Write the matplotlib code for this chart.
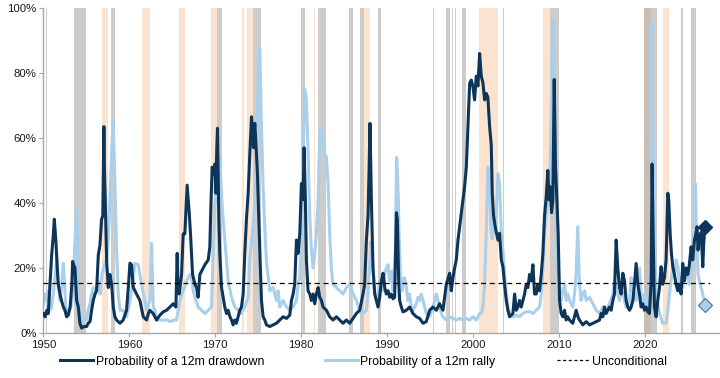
import matplotlib
matplotlib.use("Agg")
import matplotlib.pyplot as plt
from matplotlib.lines import Line2D

plt.rcParams["font.family"] = ["Liberation Sans", "DejaVu Sans"]

# Probability of a 12m drawdown (%)
dd_year = [
    1950.0, 1950.2, 1950.4, 1950.56, 1950.76, 1950.95, 1951.14, 1951.26, 1951.45, 1951.6,
    1951.72, 1951.92, 1952.1, 1952.31, 1952.5, 1952.69, 1952.89, 1953.1, 1953.3, 1953.39,
    1953.5, 1953.66, 1953.86, 1954.05, 1954.24, 1954.44, 1954.7, 1955.02, 1955.2, 1955.41,
    1955.6, 1955.79, 1956.0, 1956.18, 1956.38, 1956.57, 1956.76, 1956.9, 1957.03, 1957.1,
    1957.19, 1957.35, 1957.54, 1957.73, 1957.93, 1958.12, 1958.31, 1958.51, 1958.9, 1959.28,
    1959.67, 1959.9, 1960.06, 1960.25, 1960.45, 1960.83, 1961.22, 1961.61, 1962.0, 1962.2,
    1962.38, 1962.77, 1963.16, 1963.55, 1963.93, 1964.32, 1964.71, 1965.1, 1965.41, 1965.56,
    1965.65, 1965.79, 1966.07, 1966.26, 1966.45, 1966.72, 1966.96, 1967.11, 1967.35, 1967.62,
    1967.81, 1968.0, 1968.2, 1968.39, 1968.78, 1969.17, 1969.36, 1969.48, 1969.63, 1969.79,
    1969.94, 1970.06, 1970.17, 1970.25, 1970.33, 1970.41, 1970.52, 1970.72, 1970.91, 1971.1,
    1971.3, 1971.49, 1971.7, 1971.88, 1972.07, 1972.27, 1972.45, 1972.65, 1972.85, 1973.04,
    1973.24, 1973.43, 1973.62, 1973.82, 1974.01, 1974.21, 1974.32, 1974.44, 1974.59, 1974.79,
    1974.9, 1975.06, 1975.21, 1975.37, 1975.56, 1975.76, 1975.95, 1976.34, 1976.72, 1977.11,
    1977.5, 1977.89, 1978.28, 1978.66, 1978.86, 1979.05, 1979.24, 1979.44, 1979.63, 1979.83,
    1980.02, 1980.21, 1980.33, 1980.48, 1980.6, 1980.79, 1980.99, 1981.18, 1981.38, 1981.57,
    1981.76, 1981.96, 1982.15, 1982.35, 1982.54, 1982.93, 1983.31, 1983.7, 1984.09, 1984.48,
    1984.86, 1985.25, 1985.64, 1986.03, 1986.41, 1986.8, 1987.19, 1987.38, 1987.58, 1987.77,
    1987.9, 1988.0, 1988.16, 1988.35, 1988.55, 1988.74, 1988.93, 1989.13, 1989.32, 1989.52,
    1989.71, 1989.9, 1990.1, 1990.29, 1990.48, 1990.68, 1990.87, 1991.07, 1991.18, 1991.34,
    1991.45, 1991.65, 1991.84, 1992.23, 1992.62, 1993.0, 1993.39, 1993.78, 1994.17, 1994.55,
    1994.94, 1995.33, 1995.72, 1996.1, 1996.49, 1996.88, 1997.27, 1997.46, 1997.66, 1997.85,
    1998.04, 1998.24, 1998.43, 1998.62, 1998.82, 1999.01, 1999.21, 1999.4, 1999.6, 1999.79,
    1999.98, 2000.17, 2000.37, 2000.56, 2000.76, 2000.95, 2001.14, 2001.34, 2001.53, 2001.72,
    2001.92, 2002.11, 2002.23, 2002.38, 2002.62, 2002.89, 2003.08, 2003.28, 2003.47, 2003.66,
    2003.86, 2004.05, 2004.24, 2004.63, 2004.83, 2005.02, 2005.21, 2005.41, 2005.6, 2005.79,
    2005.99, 2006.18, 2006.38, 2006.57, 2006.76, 2006.96, 2007.15, 2007.35, 2007.54, 2007.73,
    2007.93, 2008.12, 2008.31, 2008.51, 2008.7, 2008.82, 2008.97, 2009.13, 2009.28, 2009.44,
    2009.59, 2009.75, 2009.9, 2010.06, 2010.25, 2010.45, 2010.64, 2010.83, 2011.0, 2011.22,
    2011.6, 2011.99, 2012.2, 2012.38, 2012.77, 2013.16, 2013.55, 2013.94, 2014.32, 2014.71,
    2014.9, 2015.1, 2015.29, 2015.48, 2015.68, 2015.87, 2016.07, 2016.26, 2016.45, 2016.65,
    2016.84, 2017.03, 2017.23, 2017.42, 2017.62, 2017.81, 2018.0, 2018.2, 2018.39, 2018.59,
    2018.78, 2018.97, 2019.17, 2019.36, 2019.55, 2019.75, 2019.94, 2020.14, 2020.33, 2020.52,
    2020.72, 2020.83, 2020.95, 2021.1, 2021.3, 2021.49, 2021.69, 2021.88, 2022.07, 2022.27,
    2022.46, 2022.66, 2022.77, 2022.93, 2023.08, 2023.24, 2023.43, 2023.62, 2023.82, 2024.01,
    2024.21, 2024.4, 2024.59, 2024.79, 2024.98, 2025.17, 2025.37, 2025.56, 2025.76, 2025.94,
    2026.06, 2026.18, 2026.34, 2026.54, 2026.73, 2026.85, 2027.0,
]
dd_value = [
    6, 5, 7, 6, 15, 24, 30, 35, 28, 20,
    15, 12, 10, 8, 7, 5, 5.5, 8, 15, 22,
    21, 20, 10, 8, 3, 1.5, 2, 2, 3, 3.5,
    7, 10, 12, 13, 24, 27, 35, 36, 63.5, 50,
    41, 22, 14, 18, 15, 8, 5, 4, 3, 4,
    7, 15, 21.5, 21, 14, 12, 10, 5, 4, 6,
    7, 6, 4, 5.5, 6.5, 7, 8, 9, 8, 24.5,
    14, 12, 18, 30.5, 30.5, 45.5, 37, 30.5, 18, 15,
    14, 11, 18, 19, 21, 22.5, 26.5, 39, 51, 49,
    52, 43, 57, 63, 50, 35, 24.5, 14, 11, 8,
    6, 7, 5, 4, 2.5, 4, 3, 5, 7, 8,
    12, 24.5, 35, 43, 55, 66.5, 62.5, 57, 64.5, 55,
    49, 35, 22.5, 10, 5, 4, 2.5, 2, 2.5, 3,
    4, 5, 4.5, 5.5, 10, 12, 15, 28.6, 24.5, 30.7,
    46, 41, 57, 41, 22.5, 13, 12, 10, 12, 9,
    12, 14, 11, 10, 8, 7, 5, 4, 5, 4,
    3, 4, 3, 4.5, 6, 7, 12, 15, 28.6, 36,
    51, 64.5, 41, 20, 12, 10, 8, 11, 16, 18.4,
    14, 12, 13, 11, 12, 10.5, 11, 37, 35, 16,
    10, 8, 6.5, 7, 8, 6, 5, 4.5, 3, 3.5,
    7, 8, 7, 9, 7, 15, 18.4, 13, 17, 20,
    22.5, 28.6, 32.7, 37, 41, 45, 51, 63.5, 76.8, 77.8,
    75.8, 71.7, 79, 76, 86, 79, 77, 71.7, 73.7, 72.5,
    63.5, 58, 43, 36, 32, 28.6, 30.7, 22.5, 20.4, 15,
    10, 7, 5, 6, 12, 7, 8, 10, 8, 10,
    12, 15, 14, 18, 16, 21, 12, 12, 15, 13,
    18, 24.5, 36, 42, 50, 41, 45, 37, 41, 78,
    51, 41, 30.7, 10, 6, 5, 7, 4, 5, 4,
    3, 7, 5, 4, 2.5, 3.5, 2.5, 3, 3.5, 4,
    6, 5, 8, 6, 7, 8, 7, 10, 12, 28.6,
    20, 14, 12, 18.4, 16, 10, 8, 7, 8, 10,
    15, 21.4, 15, 12, 8, 9, 7, 8, 6.6, 6,
    16, 52, 30.7, 8, 5, 10, 14, 20.4, 15, 17,
    22.5, 43, 41, 30.7, 24.5, 20.4, 18, 15, 13, 15,
    12, 21.4, 16, 20, 18, 21, 26.5, 22.5, 28.6, 30.7,
    32.7, 25.5, 29.6, 31, 20.4, 28, 32.7,
]

# Probability of a 12m rally (%)
ru_year = [
    1950.0, 1950.2, 1950.4, 1950.56, 1950.76, 1950.95, 1951.14, 1951.3, 1951.45, 1951.57,
    1951.72, 1951.92, 1952.1, 1952.3, 1952.45, 1952.6, 1952.8, 1953.0, 1953.2, 1953.4,
    1953.6, 1953.85, 1953.95, 1954.05, 1954.24, 1954.44, 1954.7, 1955.0, 1955.2, 1955.41,
    1955.6, 1955.79, 1956.0, 1956.2, 1956.4, 1956.6, 1956.8, 1957.0, 1957.2, 1957.35,
    1957.54, 1957.73, 1957.93, 1958.12, 1958.31, 1958.51, 1958.7, 1958.9, 1959.28, 1959.67,
    1960.0, 1960.26, 1960.64, 1961.02, 1961.42, 1962.0, 1962.38, 1962.58, 1962.77, 1962.97,
    1963.16, 1963.55, 1963.93, 1964.4, 1964.71, 1965.2, 1965.48, 1965.87, 1966.26, 1966.65,
    1967.03, 1967.23, 1967.42, 1967.62, 1968.0, 1968.39, 1968.78, 1969.17, 1969.55, 1969.75,
    1969.94, 1970.2, 1970.41, 1970.64, 1970.8, 1971.03, 1971.3, 1971.49, 1971.88, 1972.27,
    1972.65, 1973.04, 1973.43, 1973.82, 1974.01, 1974.4, 1974.59, 1974.79, 1974.98, 1975.17,
    1975.37, 1975.56, 1975.76, 1975.95, 1976.34, 1976.72, 1977.11, 1977.3, 1977.5, 1977.89,
    1978.28, 1978.66, 1979.05, 1979.44, 1979.63, 1979.83, 1980.02, 1980.21, 1980.4, 1980.6,
    1980.79, 1980.99, 1981.18, 1981.38, 1981.57, 1981.76, 1981.96, 1982.15, 1982.35, 1982.54,
    1982.73, 1982.93, 1983.12, 1983.31, 1983.5, 1983.7, 1984.09, 1984.48, 1984.86, 1985.25,
    1985.64, 1986.03, 1986.41, 1986.8, 1987.19, 1987.58, 1987.96, 1988.1, 1988.3, 1988.55,
    1988.74, 1988.93, 1989.13, 1989.52, 1989.71, 1989.9, 1990.1, 1990.29, 1990.48, 1990.68,
    1990.95, 1991.1, 1991.2, 1991.3, 1991.38, 1991.55, 1991.75, 1992.0, 1992.2, 1992.4,
    1992.6, 1992.8, 1993.0, 1993.39, 1993.58, 1993.78, 1993.97, 1994.17, 1994.55, 1994.94,
    1995.33, 1995.72, 1996.1, 1996.3, 1996.49, 1996.88, 1997.27, 1997.66, 1998.04, 1998.43,
    1998.82, 1999.21, 1999.6, 1999.98, 2000.37, 2000.76, 2000.95, 2001.14, 2001.34, 2001.53,
    2001.72, 2001.92, 2002.11, 2002.23, 2002.38, 2002.62, 2002.89, 2003.08, 2003.28, 2003.47,
    2003.66, 2003.86, 2004.05, 2004.24, 2004.63, 2005.02, 2005.41, 2005.79, 2006.18, 2006.57,
    2006.96, 2007.35, 2007.73, 2007.93, 2008.12, 2008.31, 2008.51, 2008.7, 2008.97, 2009.13,
    2009.28, 2009.44, 2009.59, 2009.75, 2009.9, 2010.06, 2010.25, 2010.45, 2010.64, 2010.83,
    2011.02, 2011.22, 2011.6, 2011.8, 2011.99, 2012.18, 2012.38, 2012.57, 2012.77, 2012.97,
    2013.16, 2013.55, 2013.94, 2014.32, 2014.71, 2015.1, 2015.48, 2015.87, 2016.26, 2016.45,
    2016.65, 2016.84, 2017.03, 2017.23, 2017.42, 2017.81, 2018.2, 2018.39, 2018.59, 2018.78,
    2018.97, 2019.17, 2019.36, 2019.55, 2019.75, 2019.94, 2020.14, 2020.33, 2020.52, 2020.72,
    2020.8, 2020.9, 2021.1, 2021.3, 2021.69, 2022.07, 2022.46, 2022.66, 2022.85, 2023.08,
    2023.24, 2023.43, 2023.62, 2023.82, 2024.01, 2024.21, 2024.4, 2024.59, 2024.79, 2024.98,
    2025.17, 2025.37, 2025.56, 2025.76, 2025.87, 2026.0, 2026.18, 2026.34, 2026.54, 2026.73,
    2027.0,
]
ru_value = [
    9, 12, 10, 13, 7, 8, 12, 16, 20, 23,
    15, 10, 14, 21.4, 15, 8, 6, 7, 8, 12,
    25, 38, 30, 10, 6, 4, 4, 4, 7, 9,
    12, 14, 12, 14, 16, 12, 18, 20, 22, 22,
    28.6, 41, 56, 65.5, 46, 25.5, 12, 7, 7, 5,
    9, 13, 21.4, 21, 15, 7, 10, 27.6, 8, 7,
    4, 4, 4, 4, 3.5, 4, 4, 10, 13, 16,
    18, 17, 13, 11, 8, 7, 6, 7, 8, 24.5,
    39, 45, 55, 47, 39, 31, 22.5, 16, 11, 8,
    7, 6, 8, 11, 22.5, 33, 40, 55, 76, 87.6,
    63, 45, 32, 22, 13, 14, 10, 13, 8, 10,
    8, 7, 8, 10, 15, 17, 30.7, 51, 75, 72,
    56, 36, 25.5, 20, 24.5, 30.7, 41, 61, 62.5, 59,
    55, 54, 46, 30.7, 20, 15, 14, 13, 12, 14,
    15, 12, 10, 7, 6, 7, 20, 28, 22, 12,
    11, 12, 16, 13, 18, 20, 21, 16, 19, 13,
    25.5, 54, 49, 41, 30.7, 18, 13, 17, 15, 10,
    12, 8, 7, 9, 11, 10, 12, 10, 6, 5,
    8, 12, 8, 6, 5, 4, 5, 4.5, 4, 4.5,
    4, 4.5, 4, 5, 4, 6, 6, 8, 15, 30.7,
    51, 46, 30.7, 29, 36, 30.7, 49, 46, 30.7, 25.5,
    18, 12, 8, 6, 5, 5.5, 5, 6, 6.5, 6.6,
    6, 7, 8, 12, 20, 30.7, 36, 41, 51, 72,
    96, 82, 51, 30.7, 20, 14, 10, 13, 15, 10,
    12, 10, 8, 12, 18, 32.7, 15, 10, 12, 13,
    10, 11, 9, 7, 6, 8, 7, 9, 12, 16,
    14, 12, 10, 14, 12, 8, 10, 17, 13, 12,
    10, 13, 20, 12, 10, 12, 8, 10, 14, 30.7,
    96, 60, 30.7, 12, 6, 3, 3, 7, 12, 17,
    20.4, 18, 22.5, 20.4, 15, 17, 14, 18, 20, 17,
    15, 20, 25.5, 30.7, 46, 30.7, 18, 16, 14, 12,
    8.6,
]

unconditional = 15.4

# shaded periods (years)
gray_start = [1950.29, 1953.58, 1957.85, 1962.7, 1970.14, 1974.4, 1980.02, 1981.95, 1985.56,
              1986.8, 1988.93, 1995.33, 1996.8, 1997.5, 1997.88, 1998.66, 2003.43, 2008.9,
              2019.92, 2024.16, 2025.41]
gray_end = [1950.44, 1954.91, 1958.28, 1962.79, 1970.72, 1975.26, 1980.49, 1982.93, 1986.07,
            1987.27, 1989.24, 1995.41, 1997.33, 1997.65, 1998.05, 1999.13, 2003.63, 2009.98,
            2021.35, 2024.44, 2025.95]
orange_start = [1956.8, 1961.45, 1965.79, 1969.48, 1973.16, 1973.63, 1981.49, 1981.7, 1987.27,
                2000.67, 2008.12, 2019.92, 2022.07]
orange_end = [1957.5, 1962.38, 1966.45, 1970.14, 1973.31, 1974.4, 1981.6, 1981.77, 1988.05,
              2002.88, 2008.9, 2020.7, 2022.85]

dark = "#0d3559"
light = "#a9cfea"

fig = plt.figure(figsize=(7.2, 3.78), dpi=100)
ax = fig.add_axes([0.0604, 0.119, 0.938, 0.86])

for s, e in zip(orange_start, orange_end):
    ax.axvspan(s, e, color="#f8c9a3", alpha=0.5, lw=0, zorder=0)
for s, e in zip(gray_start, gray_end):
    ax.axvspan(s, e, color="#9a9a9a", alpha=0.5, lw=0, zorder=0)

ax.plot(ru_year, ru_value, color=light, lw=2.2, zorder=2, solid_joinstyle="round")
ax.plot(dd_year, dd_value, color=dark, lw=2.2, zorder=3, solid_joinstyle="round")
ax.axhline(unconditional, xmin=0, xmax=(2027.6 - 1950) / (2028.6 - 1950),
           color="black", lw=0.9, ls=(0, (4, 3)), zorder=4)

ax.plot(dd_year[-1], dd_value[-1], marker="D", ms=7, color=dark, zorder=5)
ax.plot(ru_year[-1], ru_value[-1], marker="D", ms=7, mfc=light, mec="#4d6f8f",
        mew=0.8, zorder=5)

ax.set_xlim(1950, 2028.6)
ax.set_ylim(0, 100)
ax.set_xticks(range(1950, 2021, 10))
ax.set_yticks(range(0, 101, 20))
ax.set_yticklabels([f"{v}%" for v in range(0, 101, 20)])

for side in ["top", "right"]:
    ax.spines[side].set_visible(False)
for side in ["left", "bottom"]:
    ax.spines[side].set_color("#a6a6a6")
    ax.spines[side].set_linewidth(1.0)
ax.tick_params(axis="both", length=3, width=0.8, color="#a6a6a6",
               labelsize=8.2, labelcolor="#1a1a1a", pad=2)

handles = [
    Line2D([], [], color=dark, lw=2.2),
    Line2D([], [], color=light, lw=2.2),
    Line2D([], [], color="black", lw=0.9, ls=(0, (2.5, 2))),
]
labels = ["Probability of a 12m drawdown", "Probability of a 12m rally", "Unconditional"]
fig.legend(handles, labels, loc="center", bbox_to_anchor=(0.505, 0.043), ncol=3,
           frameon=False, fontsize=8.8, handlelength=2.7, handletextpad=0.2,
           columnspacing=5.0, borderaxespad=0)

fig.savefig("out.png", dpi=100)
